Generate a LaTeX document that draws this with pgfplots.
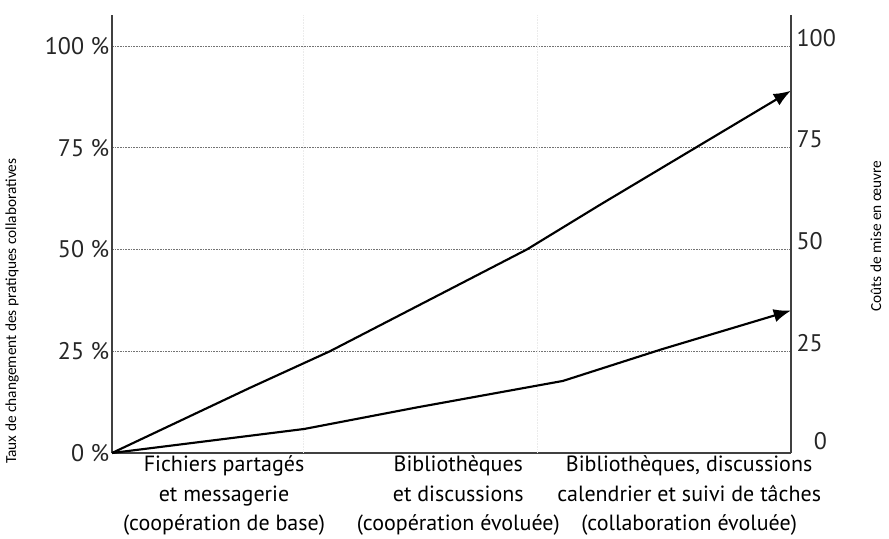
\documentclass[border=0pt]{standalone}
\usepackage{fontspec}
\setmainfont{PT Sans}
\newfontfamily\calib{Carlito}
\usepackage{pgfplots}
\pgfplotsset{compat=1.18}
\usetikzlibrary{arrows.meta}
\begin{document}
\begin{tikzpicture}
\useasboundingbox (-84pt,-64.5pt) rectangle (582.75pt,339.75pt);
\begin{axis}[
  at={(0,0)}, anchor=south west,
  width=509.25pt, height=328.5pt, scale only axis,
  xmin=0, xmax=100, ymin=0, ymax=107.6,
  axis x line=bottom, axis y line=left,
  axis line style={-, black!75, line width=0.9pt},
  ytick={0,25,50,75,100},
  yticklabels={0~\%,25~\%,50~\%,75~\%,100~\%},
  yticklabel style={font=\fontsize{18}{20}\selectfont, color=black!85, inner sep=2pt},
  xtick={16.5,51.0,85.0},
  xticklabels={{Fichiers partagés\\et messagerie\\(coopération de base)},
               {Bibliothèques\\et discussions\\(coopération évoluée)},
               {Bibliothèques, discussions\\calendrier et suivi de tâches\\(collaboration évoluée)}},
  xticklabel style={align=center, font=\fontsize{16.5}{22}\selectfont, inner sep=2pt},
  major tick length=0pt,
  ymajorgrids,
  major grid style={black!55, line width=0.5pt, dash pattern=on 1.2pt off 0.8pt},
  extra x ticks={28.1,62.7},
  extra x tick labels={},
  extra x tick style={grid=major, major grid style={black!8, line width=0.4pt}, major tick length=0pt},
  ylabel={Taux de changement des pratiques collaboratives},
  ylabel style={at={(axis description cs:-0.147,0.324)}, anchor=center, font=\calib\fontsize{11.5}{13}\selectfont},
  clip=false,
]
\addplot[black, line width=1.6pt, -{Latex[length=13pt,width=10pt]}] coordinates {
  (0,0) (20.3,16) (32.1,25) (61.1,50) (71.9,61) (100,89)
};
\addplot[black, line width=1.6pt, -{Latex[length=13pt,width=10pt]}] coordinates {
  (0,0) (28.3,5.9) (44.9,11.2) (66.4,17.7) (81,25.5) (100,35)
};
\end{axis}
\begin{axis}[
  at={(0,0)}, anchor=south west,
  width=509.25pt, height=328.5pt, scale only axis,
  xmin=0, xmax=100, ymin=0, ymax=107.6,
  axis x line=none, axis y line*=right,
  axis line style={-, black!75, line width=0.9pt},
  ytick={25,50,75,100},
  yticklabels={25,50,75,100},
  yticklabel style={font=\fontsize{18}{20}\selectfont, color=black!85, inner sep=3pt, yshift=6pt, xshift=1pt},
  extra y ticks={0},
  extra y tick labels={0},
  extra y tick style={yticklabel style={xshift=13pt, yshift=3pt}},
  major tick length=0pt,
  ylabel={Coûts de mise en œuvre},
  ylabel style={at={(axis description cs:1.125,0.495)}, anchor=center, rotate=0, font=\calib\fontsize{11.5}{13}\selectfont},
]
\end{axis}
\end{tikzpicture}
\end{document}
